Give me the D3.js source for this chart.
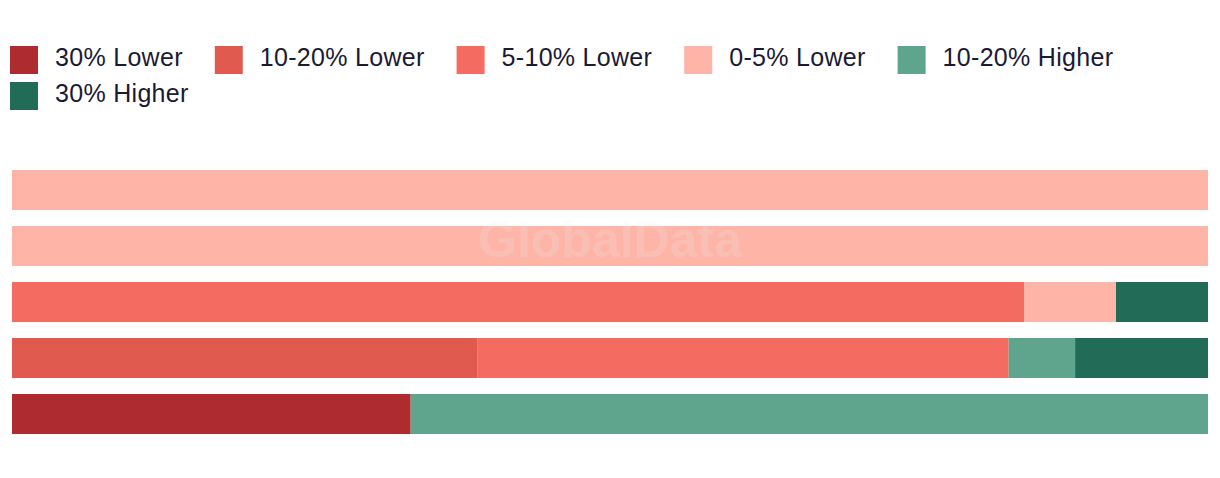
<!DOCTYPE html>
<html>
<head>
<meta charset="utf-8">
<script src="https://cdn.jsdelivr.net/npm/d3@7"></script>
<style>
  body { margin: 0; background: #fff; }
  text { font-family: "Liberation Sans", Arial, sans-serif; }
</style>
</head>
<body>
<div id="chart"></div>
<script>
  // rows have no visible labels in the source, so just index them
  var categories = ["Row 1", "Row 2", "Row 3", "Row 4", "Row 5"];
  var seriesNames = ["30% Lower", "10-20% Lower", "5-10% Lower", "0-5% Lower", "10-20% Higher", "30% Higher"];
  var seriesColors = ["#ae2c2f", "#e05a4f", "#f46c61", "#feb4a6", "#5fa58e", "#216b57"];

  // counts per row, in the order of seriesNames
  var lower30    = [0, 0, 0, 0, 1];
  var lower10_20 = [0, 0, 0, 7, 0];
  var lower5_10  = [0, 0, 11, 8, 0];
  var lower0_5   = [1, 1, 1, 0, 0];
  var higher10_20 = [0, 0, 0, 1, 2];
  var higher30   = [0, 0, 1, 2, 0];

  var width = 1220, height = 478;

  var data = categories.map(function(c, i) {
    var row = { cat: c };
    var vals = [lower30[i], lower10_20[i], lower5_10[i], lower0_5[i], higher10_20[i], higher30[i]];
    var total = d3.sum(vals);
    seriesNames.forEach(function(s, j) { row[s] = vals[j] / total; });
    return row;
  });

  var stack = d3.stack().keys(seriesNames);
  var series = stack(data);

  var svg = d3.select("#chart")
    .append("svg")
    .attr("width", width)
    .attr("height", height);

  var x = d3.scaleLinear().domain([0, 1]).range([12, 1208]);
  var y = d3.scaleBand().domain(categories).range([162, 442])
    .paddingInner(2 / 7).paddingOuter(1 / 7);

  svg.append("g")
    .selectAll("g")
    .data(series)
    .enter()
    .append("g")
    .attr("fill", function(d, i) { return seriesColors[i]; })
    .selectAll("rect")
    .data(function(d) { return d; })
    .enter()
    .append("rect")
    .attr("x", function(d) { return x(d[0]); })
    .attr("y", function(d) { return y(d.data.cat); })
    .attr("width", function(d) { return x(d[1]) - x(d[0]); })
    .attr("height", y.bandwidth());

  // watermark
  svg.append("text")
    .attr("x", 610)
    .attr("y", 257)
    .attr("text-anchor", "middle")
    .style("font-size", "50px")
    .style("font-weight", "bold")
    .style("fill", "#eeeeee")
    .style("opacity", 0.2)
    .text("GlobalData");

  // legend, flows left to right and wraps
  var legend = svg.append("g");
  var lx = 10, ly = 46, box = 28;
  seriesNames.forEach(function(name, i) {
    var item = legend.append("g");
    item.append("rect")
      .attr("width", box)
      .attr("height", box)
      .attr("fill", seriesColors[i]);
    var t = item.append("text")
      .attr("x", box + 17)
      .attr("y", box / 2 + 6)
      .style("font-size", "25px")
      .style("letter-spacing", "0.3px")
      .style("fill", "#1b1a33")
      .text(name);
    var w = box + 17 + t.node().getComputedTextLength();
    if (lx + w > width - 10 && lx > 10) { lx = 10; ly += 36; }
    item.attr("transform", "translate(" + lx + "," + ly + ")");
    lx += w + 32;
  });
</script>
</body>
</html>
